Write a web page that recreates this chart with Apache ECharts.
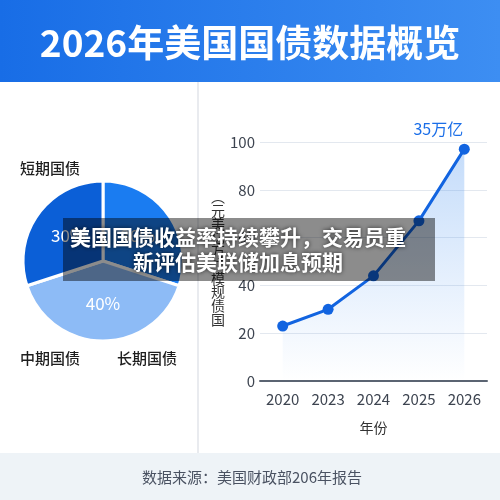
<!DOCTYPE html>
<html>
<head>
<meta charset="utf-8">
<script src="https://cdn.jsdelivr.net/npm/echarts@6/dist/echarts.min.js"></script>
<style>
  html, body { margin: 0; padding: 0; background: #fff; }
  #chart { width: 500px; height: 500px; }
</style>
</head>
<body>
<div id="chart"></div>
<script>
// pie: share of treasuries by maturity (clockwise from 12 o'clock)
const pieNames = ['中期国债', '长期国债', '短期国债']
const pieValues = [30, 40, 30]
const pieColors = ['#1a7cf1', '#8dbbf6', '#0b5fd7']

// line: debt scale by year
const years = ['2020', '2023', '2024', '2025', '2026']
const scaleValues = [23, 30, 44, 67, 97]
const yTicks = [0, 20, 40, 60, 80, 100]
const peakLabel = '35万亿'

const titleText = '2026年美国国债数据概览'
const overlayLines = ['美国国债收益率持续攀升，交易员重', '新评估美联储加息预期']
const sourceText = '数据来源：美国财政部206年报告'
const yName = ['︵', '元', '美', '亿', '万', '︶', '模', '规', '债', '国']

const FONT = '"Noto Sans CJK SC", "Noto Sans", sans-serif'

const chart = echarts.init(document.getElementById('chart'), null, { renderer: 'canvas' })

// name labels sit around the pie, not attached to slices
const pieLabelPos = { '短期国债': [50, 168], '中期国债': [50, 358], '长期国债': [147, 358] }

const option = {
	animation: false,
	backgroundColor: '#ffffff',
	textStyle: { fontFamily: FONT },
	grid: { left: 260, right: 13, top: 142, bottom: 119 },
	xAxis: {
		type: 'category',
		data: years,
		boundaryGap: true,
		axisLine: { lineStyle: { color: '#5b6472', width: 2 } },
		axisTick: { show: false },
		axisLabel: { color: '#3d4450', fontSize: 15, margin: 11, fontFamily: FONT },
		name: '年份',
		nameLocation: 'middle',
		nameGap: 40,
		nameTextStyle: { color: '#333', fontSize: 14, fontFamily: FONT },
	},
	yAxis: {
		type: 'value',
		min: yTicks[0],
		max: yTicks[yTicks.length - 1],
		interval: 20,
		axisLine: { show: false },
		axisTick: { show: false },
		axisLabel: { color: '#3d4450', fontSize: 15, margin: 5, fontFamily: FONT },
		splitLine: { lineStyle: { color: '#e3e8ef', width: 1 } },
	},
	series: [
		{
			type: 'pie',
			center: [103, 261],
			radius: [0, 80],
			startAngle: 90,
			clockwise: true,
			silent: true,
			itemStyle: { borderColor: '#ffffff', borderWidth: 3 },
			label: {
				show: true,
				position: 'inside',
				formatter: '{c}%',
				color: '#ffffff',
				fontSize: 17,
				fontFamily: FONT,
			},
			labelLine: { show: false },
			data: pieNames.map((n, i) => ({ name: n, value: pieValues[i], itemStyle: { color: pieColors[i] } })),
		},
		{
			type: 'line',
			data: scaleValues.map((v, i) =>
				i === scaleValues.length - 1
					? {
							value: v,
							label: {
								show: true,
								formatter: peakLabel,
								position: 'top',
								offset: [-26, -2],
								color: '#1a6ee8',
								fontSize: 16,
								fontFamily: FONT,
							},
						}
					: v,
			),
			symbol: 'circle',
			symbolSize: 11,
			lineStyle: { color: '#1264e0', width: 3 },
			itemStyle: { color: '#1264e0' },
			areaStyle: {
				color: new echarts.graphic.LinearGradient(0, 0, 0, 1, [
					{ offset: 0, color: 'rgba(70,145,240,0.45)' },
					{ offset: 1, color: 'rgba(70,145,240,0.0)' },
				]),
			},
			z: 3,
		},
	],
	graphic: [
		// header banner
		{
			type: 'rect',
			shape: { x: 0, y: 0, width: 500, height: 82 },
			style: {
				fill: new echarts.graphic.LinearGradient(0, 0, 1, 0, [
					{ offset: 0, color: '#186de6' },
					{ offset: 1, color: '#3d8ef2' },
				]),
			},
			z: 0,
		},
		{
			type: 'text',
			x: 250,
			y: 43,
			style: {
				text: titleText,
				fill: '#ffffff',
				font: 'bold 37px ' + FONT,
				textAlign: 'center',
				textVerticalAlign: 'middle',
			},
			z: 1,
		},
		// divider
		{
			type: 'line',
			shape: { x1: 198, y1: 82, x2: 198, y2: 453 },
			style: { stroke: '#e2e5ea', lineWidth: 1.5 },
		},
		// footer
		{
			type: 'rect',
			shape: { x: 0, y: 453, width: 500, height: 47 },
			style: { fill: '#eef3f7' },
		},
		{
			type: 'text',
			x: 252,
			y: 477,
			style: {
				text: sourceText,
				fill: '#4a5262',
				font: '15px ' + FONT,
				textAlign: 'center',
				textVerticalAlign: 'middle',
			},
		},
		// pie name labels
		...pieNames.map((n) => ({
			type: 'text',
			x: pieLabelPos[n][0],
			y: pieLabelPos[n][1],
			style: {
				text: n,
				fill: '#1e1e1e',
				font: '500 15px ' + FONT,
				textAlign: 'center',
				textVerticalAlign: 'middle',
			},
		})),
		// vertical y axis name
		{
			type: 'text',
			x: 218,
			y: 258,
			style: {
				text: yName.join('\n'),
				fill: '#333',
				font: '14px ' + FONT,
				lineHeight: 13.6,
				textAlign: 'center',
				textVerticalAlign: 'middle',
			},
		},
		// overlay headline box
		{
			type: 'rect',
			shape: { x: 63, y: 218, width: 372, height: 63 },
			style: { fill: 'rgba(0,0,0,0.45)' },
			z: 100,
		},
		...overlayLines.map((t, i) => ({
			type: 'text',
			x: 238,
			y: 237 + i * 25,
			style: {
				text: t,
				fill: '#ffffff',
				font: 'bold 21px ' + FONT,
				textAlign: 'center',
				textVerticalAlign: 'middle',
				textShadowColor: 'rgba(0,0,0,0.7)',
				textShadowBlur: 4,
			},
			z: 101,
		})),
	],
}

chart.setOption(option)
</script>
</body>
</html>
